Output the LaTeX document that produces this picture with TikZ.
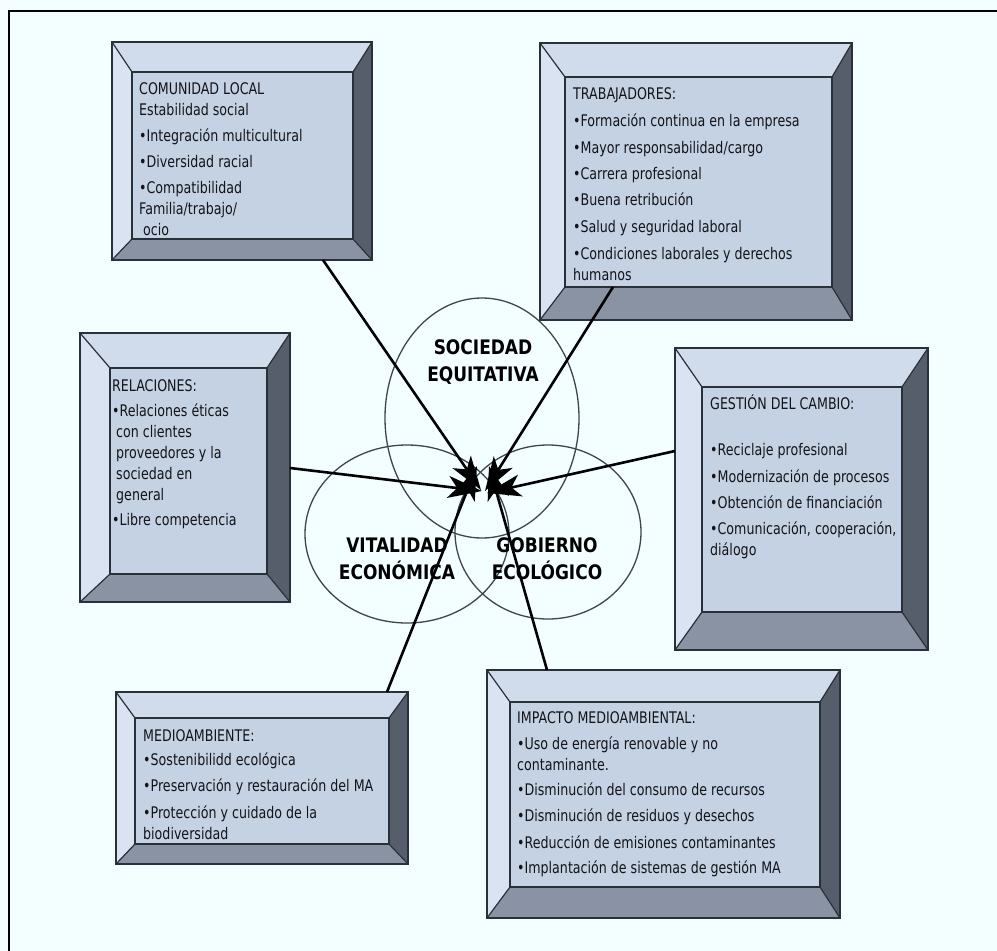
\documentclass[tikz,border=0pt]{standalone}
\usepackage{fontspec}
\setmainfont{DejaVu Sans}
\newfontfamily\bxf[FakeStretch=0.79]{DejaVu Sans}
\newfontfamily\bdf[FakeStretch=0.85]{DejaVu Sans}
\usetikzlibrary{arrows.meta}
\definecolor{bg}{HTML}{F2FEFF}
\definecolor{cTop}{HTML}{D0DCEC}
\definecolor{cLeft}{HTML}{DAE3F1}
\definecolor{cFace}{HTML}{C4D2E4}
\definecolor{cRight}{HTML}{575E6B}
\definecolor{cBot}{HTML}{8A93A3}
\definecolor{cEdge}{HTML}{2A3038}
\definecolor{cTxt}{HTML}{141418}
\tikzset{
  edge/.style={draw=cEdge, line width=1.2pt, line join=miter},
  ring/.style={draw=cEdge!90, line width=1.3pt},
  arr/.style={line width=2.6pt, black, -{Stealth[length=34pt, width=22pt, inset=9pt]}},
  boxtxt/.style={anchor=north west, inner sep=0pt, align=left, text=cTxt,
    font=\bxf\fontsize{16}{21}\selectfont},
  ringtxt/.style={inner sep=0pt, align=center, text=black,
    font=\bdf\bfseries\fontsize{20}{27}\selectfont},
}
% #1 name, #2 X1, #3 Y1, #4 X2, #5 Y2 (outer), #6 x1, #7 y1, #8 x2, #9 y2 (inner)
\newcommand\bevbox[9]{%
  \fill[cTop] (#2,#3) -- (#4,#3) -- (#8,#7) -- (#6,#7) -- cycle;
  \fill[cLeft] (#2,#3) -- (#6,#7) -- (#6,#9) -- (#2,#5) -- cycle;
  \fill[cRight] (#4,#3) -- (#4,#5) -- (#8,#9) -- (#8,#7) -- cycle;
  \fill[cBot] (#2,#5) -- (#4,#5) -- (#8,#9) -- (#6,#9) -- cycle;
  \fill[cFace] (#6,#7) rectangle (#8,#9);
  \draw[edge] (#2,#3) rectangle (#4,#5);
  \draw[edge] (#6,#7) rectangle (#8,#9);
  \draw[edge] (#2,#3) -- (#6,#7) (#4,#3) -- (#8,#7) (#2,#5) -- (#6,#9) (#4,#5) -- (#8,#9);
  \path (#2,#3) coordinate (#1nw) (#4,#5) coordinate (#1se);
}
\newcommand\itm{\textbullet}
\begin{document}
\begin{tikzpicture}[x=1pt,y=-1pt]
\useasboundingbox (0,0) rectangle (997,951);
\fill[bg] (0,0) rectangle (997,951);
\draw[line width=2pt, black] (8.5,951) -- (8.5,11) -- (997,11);

% ellipses
\draw[ring] (482,418) ellipse [x radius=97, y radius=120];
\draw[ring] (407,534) ellipse [x radius=102, y radius=89];
\draw[ring] (548,532) ellipse [x radius=93, y radius=87];

\node[ringtxt] (soc) at (483,362) {SOCIEDAD\\EQUITATIVA};
\node[ringtxt] (vit) at (397,559) {VITALIDAD\\ECONÓMICA};
\node[ringtxt] (gob) at (547,559) {GOBIERNO\\ECOLÓGICO};

% boxes
\bevbox{b1}{112}{42}{372}{260}{132}{72}{353}{239}
\bevbox{b2}{540}{43}{852}{320}{565}{77}{832}{287}
\bevbox{b3}{80}{333}{290}{602}{110}{368}{267}{574}
\bevbox{b4}{675}{348}{928}{650}{702}{387}{902}{612}
\bevbox{b5}{116}{692}{408}{864}{135}{718}{389}{844}
\bevbox{b6}{487}{670}{840}{918}{510}{702}{820}{887}

\node[boxtxt] (t1) at (139,78) {\rule{0pt}{16pt}COMUNIDAD LOCAL\\Estabilidad social\\[5pt]
\itm Integración multicultural\\[5pt]\itm Diversidad racial\\[5pt]\itm Compatibilidad\\
Familia/trabajo/\\\ ocio};
\node[boxtxt] (t2) at (573,83) {\rule{0pt}{16pt}TRABAJADORES:\\[6pt]
\itm Formación continua en la empresa\\[6pt]\itm Mayor responsabilidad/cargo\\[5pt]
\itm Carrera profesional\\[5pt]\itm Buena retribución\\[6pt]\itm Salud y seguridad laboral\\[6pt]
\itm Condiciones laborales y derechos\\humanos};
\node[boxtxt] (t3) at (112,375) {\rule{0pt}{16pt}RELACIONES:\\[4pt]
\itm Relaciones éticas\\\ con clientes\\\ proveedores y la\\\ sociedad en\\\ general\\[4pt]
\itm Libre competencia};
\node[boxtxt] (t4) at (710,393) {\rule{0pt}{16pt}GESTIÓN DEL CAMBIO:\\[25pt]
\itm Reciclaje profesional\\[6pt]\itm Modernización de procesos\\[5pt]
\itm Obtención de financiación\\[5pt]\itm Comunicación, cooperación,\\diálogo};
\node[boxtxt] (t5) at (143,725) {\rule{0pt}{16pt}MEDIOAMBIENTE:\\[3pt]
\itm Sostenibilidd ecológica\\[5pt]\itm Preservación y restauración del MA\\[6pt]
\itm Protección y cuidado de la\\biodiversidad};
\node[boxtxt] (t6) at (517,707) {\rule{0pt}{16pt}IMPACTO MEDIOAMBIENTAL:\\[5pt]
\itm Uso de energía renovable y no\\contaminante.\\[4pt]
\itm Disminución del consumo de recursos\\[5pt]\itm Disminución de residuos y desechos\\[6pt]
\itm Reducción de emisiones contaminantes\\[4pt]\itm Implantación de sistemas de gestión MA};

% connectors
\coordinate (s1) at (323,260); \coordinate (e1) at (481,490);
\coordinate (s2) at (613,287); \coordinate (e2) at (485,491);
\coordinate (s3) at (290,468); \coordinate (e3) at (482,491);
\coordinate (s4) at (675,451); \coordinate (e4) at (487,493);
\coordinate (s5) at (387,692); \coordinate (e5) at (477,466);
\coordinate (s6) at (547,670); \coordinate (e6) at (489,466);
\foreach \i in {1,...,6} {\draw[arr] (s\i) -- (e\i);}
\end{tikzpicture}
\end{document}
